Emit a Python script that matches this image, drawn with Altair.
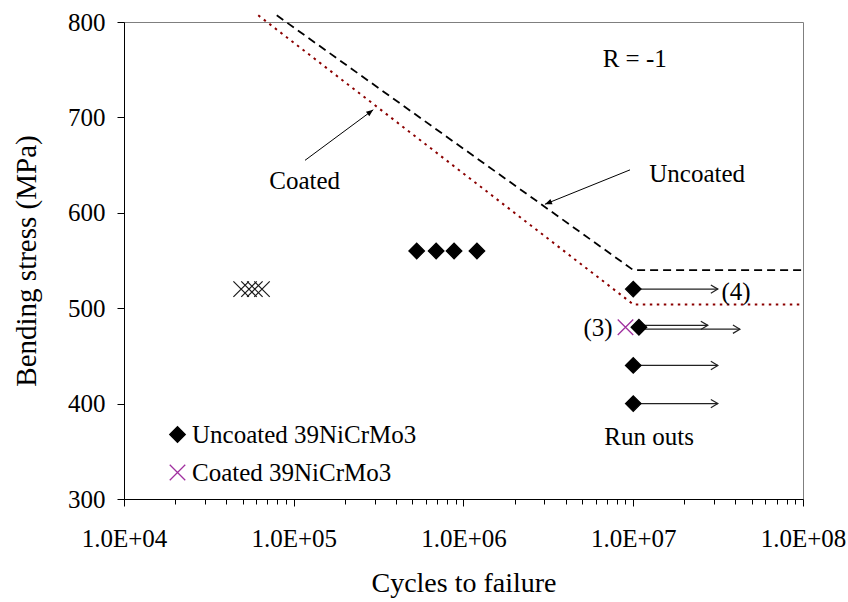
import math
import altair as alt
import pandas as pd

# ---------------- data ----------------
unc_N = [5.3e5, 6.9e5, 8.8e5, 1.2e6, 1.0e7, 1.08e7, 1.0e7, 1.0e7]
unc_S = [560, 560, 560, 560, 520, 480, 440, 400]
coat_N = [9.0e6]
coat_S = [480]
coat_group_N = [4.9e4, 5.45e4, 5.9e4, 6.5e4]
coat_group_S = [520, 520, 520, 520]
series_names = ["Uncoated 39NiCrMo3", "Coated 39NiCrMo3"]

uncoated_curve_N = [7.94e4, 1.0e7, 1.0e8]
uncoated_curve_S = [807, 540, 540]
coated_curve_N = [6.18e4, 1.0e7, 1.0e8]
coated_curve_S = [807, 504, 504]

runout_N0 = [1.0e7, 1.08e7, 1.08e7, 1.0e7, 1.0e7]
runout_N1 = [3.15e7, 2.75e7, 4.25e7, 3.15e7, 3.15e7]
runout_S = [520, 482, 478, 440, 400]

note_text = ["R = -1", "Uncoated", "Coated", "(4)", "(3)", "Run outs"]
note_N = [1.02e7, 2.38e7, 1.16e5, 4.03e7, 6.2e6, 1.24e7]
note_S = [761, 641, 633, 517, 479, 365]

pointer_N0 = [1.165e5, 9.57e6]
pointer_S0 = [655, 645]
pointer_N1 = [2.94e5, 3.02e6]
pointer_S1 = [708, 609]

x_domain = [1e4, 1e8]
y_domain = [300, 800]
y_ticks = [300, 400, 500, 600, 700, 800]
x_ticks = [k * 10 ** d for d in range(4, 8) for k in range(1, 10)] + [10 ** 8]

# ---------------- layout ----------------
W, H = 679, 477
FONT = "Liberation Serif"
XSHAPE = "M-1,-1L1,1M-1,1L1,-1"


def px(n):
    return (math.log10(n) - math.log10(x_domain[0])) / (math.log10(x_domain[1]) - math.log10(x_domain[0])) * W


def py(s):
    return (y_domain[1] - s) / (y_domain[1] - y_domain[0]) * H


pointer_angle = [
    math.degrees(math.atan2(py(s1) - py(s0), px(n1) - px(n0))) % 360
    for n0, s0, n1, s1 in zip(pointer_N0, pointer_S0, pointer_N1, pointer_S1)
]

points = pd.DataFrame({
    "N": unc_N + coat_N,
    "S": unc_S + coat_S,
    "series": [series_names[0]] * len(unc_N) + [series_names[1]] * len(coat_N),
})
group_pts = pd.DataFrame({"N": coat_group_N, "S": coat_group_S})
unc_curve = pd.DataFrame({"N": uncoated_curve_N, "S": uncoated_curve_S, "o": range(3)})
coat_curve = pd.DataFrame({"N": coated_curve_N, "S": coated_curve_S, "o": range(3)})
runouts = pd.DataFrame({"N": runout_N0, "N1": runout_N1, "S": runout_S})
notes = pd.DataFrame({"N": note_N, "S": note_S, "t": note_text})
pointers = pd.DataFrame({"N": pointer_N0, "S": pointer_S0, "N1": pointer_N1,
                         "S1": pointer_S1, "a": pointer_angle})

decade = "abs(log(datum.value)/LN10 - round(log(datum.value)/LN10)) < 0.001"
xaxis = alt.Axis(
    values=x_ticks,
    labelExpr="(" + decade + ") ? '1.0E+' + (round(log(datum.value)/LN10) < 10 ? '0' : '') + round(log(datum.value)/LN10) : ''",
    tickSize={"condition": {"test": decade, "value": 7}, "value": 5},
    grid=False, labelOverlap=False, labelFlush=False, labelBound=False,
    labelPadding=20, titleY=84, titleBaseline="middle", titleFontSize=28,
)
yaxis = alt.Axis(
    values=y_ticks, grid=False, tickSize=7, labelPadding=12,
    titleX=-98, titleY=H / 2, titleBaseline="middle", titleAlign="center", titleAngle=270,
    titleFontSize=29,
)
xs = alt.Scale(type="log", domain=x_domain, nice=False)
ys = alt.Scale(domain=y_domain, nice=False, zero=False)


def X(f="N"):
    return alt.X(f, type="quantitative", scale=xs, axis=xaxis, title="Cycles to failure")


def Y(f="S"):
    return alt.Y(f, type="quantitative", scale=ys, axis=yaxis, title="Bending stress (MPa)")


unc_line = alt.Chart(unc_curve).mark_line(
    color="black", strokeDash=[8, 5], strokeWidth=1.8
).encode(x=X(), y=Y(), order="o")
coat_line = alt.Chart(coat_curve).mark_line(
    color="#8b0000", strokeDash=[2.5, 4.5], strokeWidth=2
).encode(x=X(), y=Y(), order="o")

run_lines = alt.Chart(runouts).mark_rule(color="#222222", strokeWidth=1.2).encode(
    x=X(), x2="N1", y=Y()
)
run_heads = alt.Chart(runouts).mark_point(
    shape="M-1,-0.6L0,0L-1,0.6", size=196, filled=False, color="#222222", strokeWidth=1.2, opacity=1
).encode(x=X("N1"), y=Y())

ptr_lines = alt.Chart(pointers).mark_rule(color="black", strokeWidth=1).encode(
    x=X(), x2="N1", y=Y(), y2="S1"
)
ptr_heads = alt.Chart(pointers).mark_point(
    shape="M0,0L-1,-0.4L-1,0.4Z", size=196, filled=True, color="black", opacity=1
).encode(x=X("N1"), y=Y("S1"), angle=alt.Angle("a", type="quantitative", scale=None))

leg = alt.Legend(title=None, orient="none", legendX=41, legendY=400, padding=0,
                 labelFont=FONT, labelFontSize=25, labelColor="black", labelOffset=2,
                 labelLimit=0, symbolSize=240, symbolStrokeWidth=1.3, rowPadding=12)
dom = series_names
pts = alt.Chart(points).mark_point(size=240, strokeWidth=1.3, opacity=1).encode(
    x=X(), y=Y(),
    shape=alt.Shape("series:N", scale=alt.Scale(domain=dom, range=["diamond", XSHAPE]), legend=leg),
    fill=alt.Fill("series:N", scale=alt.Scale(domain=dom, range=["black", "transparent"]), legend=leg),
    stroke=alt.Stroke("series:N", scale=alt.Scale(domain=dom, range=["black", "#a0309f"]), legend=leg),
)
group = alt.Chart(group_pts).mark_point(
    shape=XSHAPE, size=240, filled=False, color="#1a1a1a", strokeWidth=1.2, opacity=1
).encode(x=X(), y=Y())

texts = alt.Chart(notes).mark_text(font=FONT, fontSize=25, color="black", baseline="middle", align="center").encode(
    x=X(), y=Y(), text="t"
)

chart = alt.layer(unc_line, coat_line, run_lines, run_heads, ptr_lines, ptr_heads, group, pts, texts).properties(
    width=W, height=H, autosize="none",
    padding={"left": 124, "top": 22, "right": 45, "bottom": 103},
    background="white",
).configure_view(stroke="#7f7f7f", strokeWidth=1).configure_axis(
    labelFont=FONT, titleFont=FONT, labelFontSize=25, titleFontWeight="normal",
    labelColor="black", titleColor="black", domainColor="black", tickColor="black",
    domainWidth=1, tickWidth=1,
)

chart.save("out.html", embed_options={"renderer": "svg", "actions": False})
